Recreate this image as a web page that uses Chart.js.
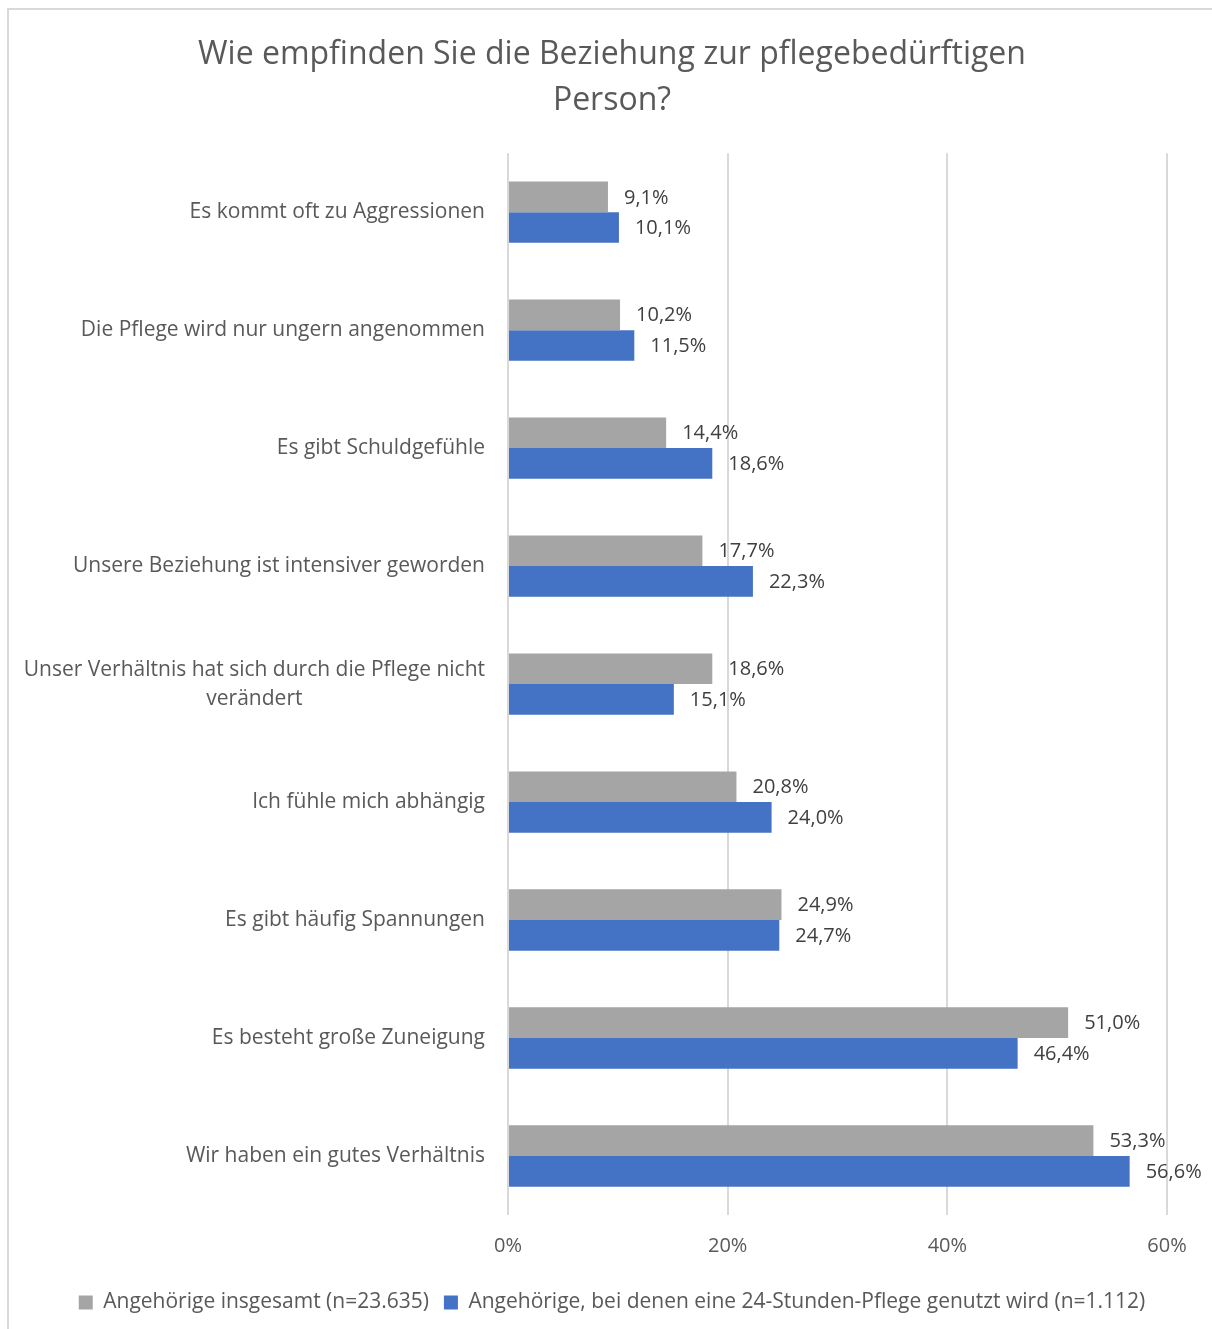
<!DOCTYPE html>
<html>
<head>
<meta charset="utf-8">
<script src="https://cdn.jsdelivr.net/npm/chart.js@4.4.1/dist/chart.umd.min.js"></script>
<style>
  html, body { margin: 0; padding: 0; background: #fff; overflow: hidden; }
  #wrap { position: relative; width: 1212px; height: 1329px; overflow: hidden; }
  #frame { position: absolute; left: 7px; top: 8px; width: 1240px; height: 1360px; border: 2px solid #d9d9d9; box-sizing: border-box; }
  #statsChart { position: absolute; left: 0; top: 0; }
</style>
</head>
<body>
<div id="wrap">
  <div id="frame"></div>
  <canvas id="statsChart" width="1224" height="1329"></canvas>
</div>
<script>
// Kategorien (von oben nach unten)
const categories = [
  'Es kommt oft zu Aggressionen',
  'Die Pflege wird nur ungern angenommen',
  'Es gibt Schuldgefühle',
  'Unsere Beziehung ist intensiver geworden',
  ['Unser Verhältnis hat sich durch die Pflege nicht', 'verändert'],
  'Ich fühle mich abhängig',
  'Es gibt häufig Spannungen',
  'Es besteht große Zuneigung',
  'Wir haben ein gutes Verhältnis'
];

// Werte in Prozent
const totalValues = [9.1, 10.2, 14.4, 17.7, 18.6, 20.8, 24.9, 51.0, 53.3];
const care24Values = [10.1, 11.5, 18.6, 22.3, 15.1, 24.0, 24.7, 46.4, 56.6];

const seriesNames = [
  'Angehörige insgesamt (n=23.635)',
  'Angehörige, bei denen eine 24-Stunden-Pflege genutzt wird (n=1.112)'
];

const xTickValues = [0, 20, 40, 60];
const titleLines = ['Wie empfinden Sie die Beziehung zur pflegebedürftigen', 'Person?'];

const FONT = '"Open Sans", Lato, sans-serif';

// Prozentwert im deutschen Format
function formatPercent(v) {
  return v.toFixed(1).replace('.', ',') + '%';
}

// Kategorienbeschriftung links (Block rechtsbündig, Zeilen zentriert)
const categoryLabelPlugin = {
  id: 'categoryLabels',
  afterDraw(chart) {
    const ctx = chart.ctx;
    const yScale = chart.scales.y;
    const right = chart.chartArea.left - 23;
    const lineH = 29;
    ctx.save();
    ctx.font = '21px ' + FONT;
    ctx.fillStyle = '#595959';
    ctx.textAlign = 'center';
    ctx.textBaseline = 'middle';
    categories.forEach((label, i) => {
      const lines = Array.isArray(label) ? label : [label];
      const widest = Math.max(...lines.map(l => ctx.measureText(l).width));
      const cx = right - widest / 2;
      const cy = yScale.getPixelForValue(i);
      const start = cy - (lines.length - 1) * lineH / 2;
      lines.forEach((l, j) => ctx.fillText(l, cx, start + j * lineH));
    });
    ctx.restore();
  }
};

// Datenbeschriftung rechts neben den Balken
const valueLabelPlugin = {
  id: 'valueLabels',
  afterDatasetsDraw(chart) {
    const ctx = chart.ctx;
    ctx.save();
    ctx.font = '20px ' + FONT;
    ctx.fillStyle = '#404040';
    ctx.textAlign = 'left';
    ctx.textBaseline = 'middle';
    chart.data.datasets.forEach((ds, di) => {
      chart.getDatasetMeta(di).data.forEach((bar, i) => {
        ctx.fillText(formatPercent(ds.data[i]), bar.x + 16, bar.y + 1);
      });
    });
    ctx.restore();
  }
};

const ctx = document.getElementById('statsChart').getContext('2d');
const chart = new Chart(ctx, {
  type: 'bar',
  data: {
    labels: categories.map(c => Array.isArray(c) ? c.join(' ') : c),
    datasets: [
      {
        label: seriesNames[0],
        data: totalValues,
        backgroundColor: '#a5a5a5',
        categoryPercentage: 0.52,
        barPercentage: 1.0
      },
      {
        label: seriesNames[1],
        data: care24Values,
        backgroundColor: '#4472c4',
        categoryPercentage: 0.52,
        barPercentage: 1.0
      }
    ]
  },
  options: {
    indexAxis: 'y',
    responsive: false,
    animation: false,
    layout: { padding: { left: 0, right: 0, top: 0, bottom: 6 } },
    scales: {
      x: {
        min: 0,
        max: 60,
        afterBuildTicks: s => { s.ticks = xTickValues.map(v => ({ value: v })); },
        ticks: {
          callback: v => v + '%',
          font: { size: 20, family: FONT },
          color: '#595959',
          padding: 19,
          maxRotation: 0
        },
        grid: { color: '#d9d9d9', lineWidth: 2, drawTicks: false },
        border: { display: false }
      },
      y: {
        ticks: { display: false },
        grid: { display: false },
        border: { display: false },
        afterFit: s => { s.width = 508; }
      },
      yRight: {
        type: 'category',
        position: 'right',
        ticks: { display: false },
        grid: { display: false },
        border: { display: false },
        afterFit: s => { s.width = 57; }
      }
    },
    plugins: {
      title: {
        display: true,
        text: titleLines,
        color: '#595959',
        font: { size: 32, family: FONT, weight: 'normal', lineHeight: 1.44 },
        padding: { top: 32, bottom: 29 }
      },
      legend: {
        position: 'bottom',
        labels: {
          boxWidth: 14,
          boxHeight: 14,
          padding: 15,
          color: '#595959',
          font: { size: 21, family: FONT }
        }
      },
      tooltip: { enabled: false }
    }
  },
  plugins: [categoryLabelPlugin, valueLabelPlugin]
});
</script>
</body>
</html>
